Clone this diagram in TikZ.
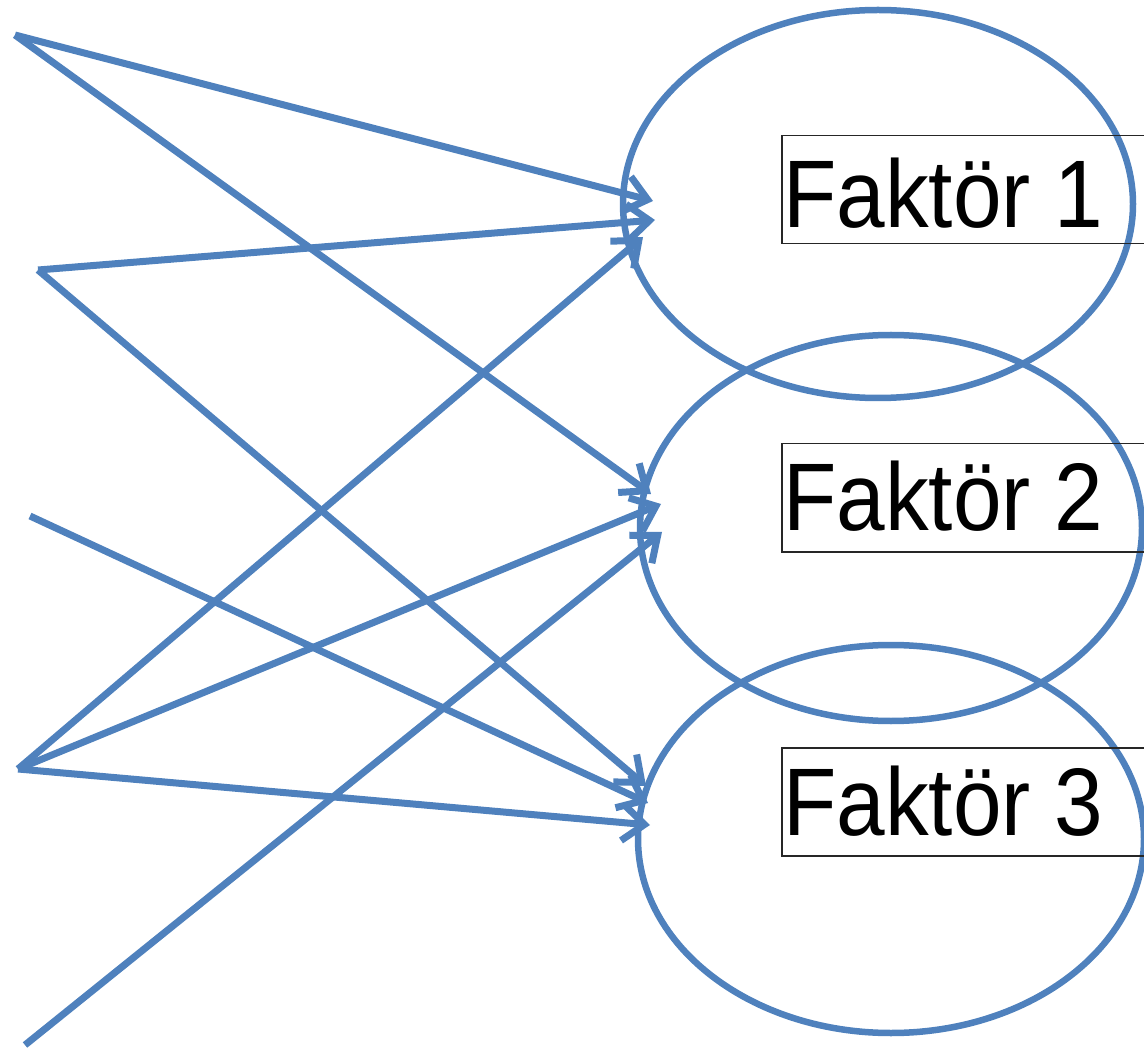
\documentclass[tikz,border=0pt]{standalone}
\usepackage{fontspec}
\setmainfont{Liberation Sans}
\usetikzlibrary{arrows.meta,shapes.geometric}
\definecolor{obl}{HTML}{4F81BD}
\begin{document}
\begin{tikzpicture}[x=1pt,y=-1pt,
  fac/.style={ellipse,draw=obl,line width=6.5pt,inner sep=0pt},
  lbox/.style={draw=black!85,line width=1.5pt,inner sep=0pt,anchor=north west,minimum width=420pt,minimum height=108pt},
  ftxt/.style={anchor=base west,inner sep=0pt,font=\fontsize{96}{96}\selectfont},
  conn/.style={draw=obl,line width=7pt,-{Straight Barb[length=22pt,width=36pt]}}]
\useasboundingbox (0,0) rectangle (1144,1048);
\clip (0,0) rectangle (1144,1048);
% factor ellipses
\node[fac,minimum width=510pt,minimum height=388pt] (f1) at (878,204) {};
\node[fac,minimum width=502pt,minimum height=386pt] (f2) at (891,528) {};
\node[fac,minimum width=506pt,minimum height=388pt] (f3) at (891,839) {};
% label boxes
\node[lbox] (b1) at (781,135) {};
\node[lbox] (b2) at (781,443) {};
\node[lbox] (b3) at (781,747) {};
\node[ftxt] (t1) at (783,228) {\scalebox{0.91}[1]{Faktör 1}};
\node[ftxt] (t2) at (783,531) {\scalebox{0.91}[1]{Faktör 2}};
\node[ftxt] (t3) at (783,835) {\scalebox{0.91}[1]{Faktör 3}};
% sources
\coordinate (sa) at (15,35);
\coordinate (sb) at (38,270);
\coordinate (sc) at (30,516);
\coordinate (sd) at (18,769);
\coordinate (se) at (25,1045);
% tips
\coordinate (a1) at (653,201);
\coordinate (b1t) at (655,220);
\coordinate (d1) at (643,237);
\coordinate (a2) at (651,494);
\coordinate (d2) at (661,504);
\coordinate (e2) at (662,532);
\coordinate (b3t) at (646,786);
\coordinate (c3) at (648,803);
\coordinate (d3) at (650,825);
% connectors
\draw[conn] (sa) -- (a1);
\draw[conn] (sa) -- (a2);
\draw[conn] (sb) -- (b1t);
\draw[conn] (sb) -- (b3t);
\draw[conn] (sc) -- (c3);
\draw[conn] (sd) -- (d1);
\draw[conn] (sd) -- (d2);
\draw[conn] (sd) -- (d3);
\draw[conn] (se) -- (e2);
\end{tikzpicture}
\end{document}
